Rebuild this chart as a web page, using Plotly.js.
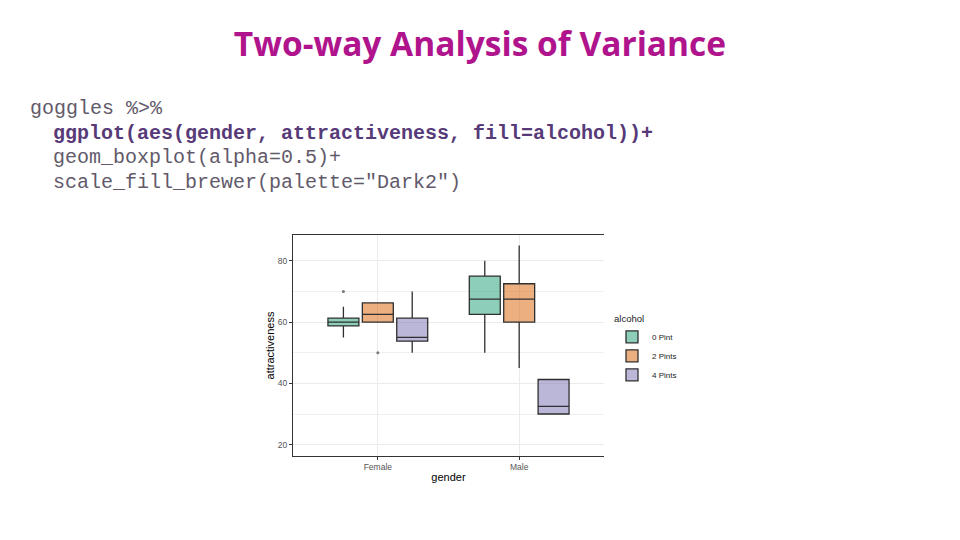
<!DOCTYPE html>
<html>
<head>
<meta charset="utf-8">
<script src="https://cdn.plot.ly/plotly-3.0.1.min.js"></script>
<style>
html,body{margin:0;padding:0;background:#fff;}
#chart{width:960px;height:540px;}
</style>
</head>
<body>
<div id="chart"></div>
<script>
// ---- data ----
const genders = ['Female', 'Male'];
const alcoholLevels = ['0 Pint', '2 Pints', '4 Pints'];
const lowerWhisker = [[55, 50], [60, 45], [50, 30]];
const q1Values = [[58.75, 62.5], [60, 60], [53.75, 30]];
const medianValues = [[60, 67.5], [62.5, 67.5], [55, 32.5]];
const q3Values = [[61.25, 75], [66.25, 72.5], [61.25, 41.25]];
const upperWhisker = [[65, 80], [66.25, 85], [70, 41.25]];
const outlierGender = ['Female', 'Female'];
const outlierLevel = [0, 1];
const outlierValue = [70, 50];
const fillColors = ['rgba(27,158,119,0.5)', 'rgba(217,95,2,0.5)', 'rgba(117,112,179,0.5)'];
const codeLines = [
  'goggles %>%',
  'ggplot(aes(gender, attractiveness, fill=alcohol))+',
  'geom_boxplot(alpha=0.5)+',
  'scale_fill_brewer(palette="Dark2")'
];
const yTicks = [20, 40, 60, 80];

// ---- traces ----
const traces = [];
alcoholLevels.forEach((lvl, i) => {
  traces.push({
    type: 'box',
    name: lvl,
    x: genders,
    q1: q1Values[i],
    median: medianValues[i],
    q3: q3Values[i],
    lowerfence: lowerWhisker[i],
    upperfence: upperWhisker[i],
    fillcolor: fillColors[i],
    line: {color: '#2f2f2f', width: 1.3},
    whiskerwidth: 0,
    boxpoints: false,
    offsetgroup: 'g' + i,
    alignmentgroup: 'a',
    hoverinfo: 'skip'
  });
});
outlierValue.forEach((v, k) => {
  const i = outlierLevel[k];
  traces.push({
    type: 'box',
    x: [outlierGender[k]],
    y: [v],
    boxpoints: 'all',
    jitter: 0,
    pointpos: 0,
    fillcolor: 'rgba(0,0,0,0)',
    line: {width: 0, color: 'rgba(0,0,0,0)'},
    marker: {color: '#777777', size: 3},
    whiskerwidth: 0,
    offsetgroup: 'g' + i,
    alignmentgroup: 'a',
    showlegend: false,
    hoverinfo: 'skip'
  });
});

// ---- annotations (code block) ----
const W = 960, H = 540;
const codeX = [28.5, 51.5, 51.5, 51.5];
const codeY = [109, 133.5, 158, 182];
const annotations = codeLines.map((t, k) => ({
  text: t,
  xref: 'paper', yref: 'paper',
  x: codeX[k] / W, y: 1 - codeY[k] / H,
  xanchor: 'left', yanchor: 'middle',
  showarrow: false,
  borderpad: 0,
  font: {
    family: '"Liberation Mono", "DejaVu Sans Mono", monospace',
    size: 20,
    color: k === 1 ? '#573a78' : '#625a6a',
    weight: k === 1 ? 'bold' : 'normal'
  }
}));

const layout = {
  width: W, height: H,
  margin: {l: 0, r: 0, t: 0, b: 0},
  paper_bgcolor: '#ffffff',
  plot_bgcolor: '#ffffff',
  title: {
    text: '<b>Two-way Analysis of Variance</b>',
    x: 0.5, xanchor: 'center',
    y: 1 - 44 / H, yanchor: 'middle', yref: 'container',
    font: {family: '"Open Sans", Lato, sans-serif', size: 33.5, color: '#b0148c'}
  },
  boxmode: 'group',
  boxgap: 0.27,
  boxgroupgap: 0.1,
  showlegend: true,
  legend: {
    x: 612 / W, y: 1 - 310 / H, xanchor: 'left', yanchor: 'top',
    title: {text: 'alcohol', font: {family: 'Arial, "Liberation Sans", sans-serif', size: 9.5, color: '#222'}},
    font: {family: 'Arial, "Liberation Sans", sans-serif', size: 8, color: '#222'},
    bgcolor: 'rgba(0,0,0,0)',
    itemwidth: 30,
    tracegroupgap: 0
  },
  xaxis: {
    domain: [293 / W, 604 / W],
    type: 'category',
    categoryorder: 'array',
    categoryarray: genders,
    range: [-0.6, 1.6],
    showgrid: true, gridcolor: '#ebebeb', gridwidth: 1,
    showline: true, linecolor: '#333333', linewidth: 1, mirror: true,
    ticks: 'outside', ticklen: 3, tickcolor: '#333333',
    tickfont: {family: 'Arial, "Liberation Sans", sans-serif', size: 8.5, color: '#555555'},
    title: {text: 'gender', font: {family: 'Arial, "Liberation Sans", sans-serif', size: 11, color: '#000'}, standoff: 2},
    zeroline: false, fixedrange: true
  },
  yaxis: {
    domain: [1 - 456 / H, 1 - 235 / H],
    range: [16.3, 88.4],
    tickvals: yTicks,
    ticktext: yTicks.map(String),
    showgrid: true, gridcolor: '#ebebeb', gridwidth: 1,
    minor: {dtick: 10, tick0: 0, showgrid: true, gridcolor: '#f0f0f0', gridwidth: 1},
    showline: true, linecolor: '#333333', linewidth: 1, mirror: false,
    ticks: 'outside', ticklen: 3, tickcolor: '#333333',
    tickfont: {family: 'Arial, "Liberation Sans", sans-serif', size: 8.5, color: '#555555'},
    title: {text: 'attractiveness', font: {family: 'Arial, "Liberation Sans", sans-serif', size: 11, color: '#000'}, standoff: 0},
    zeroline: false, fixedrange: true
  },
  annotations: annotations
};

Plotly.newPlot('chart', traces, layout, {staticPlot: true, displayModeBar: false});
</script>
</body>
</html>
